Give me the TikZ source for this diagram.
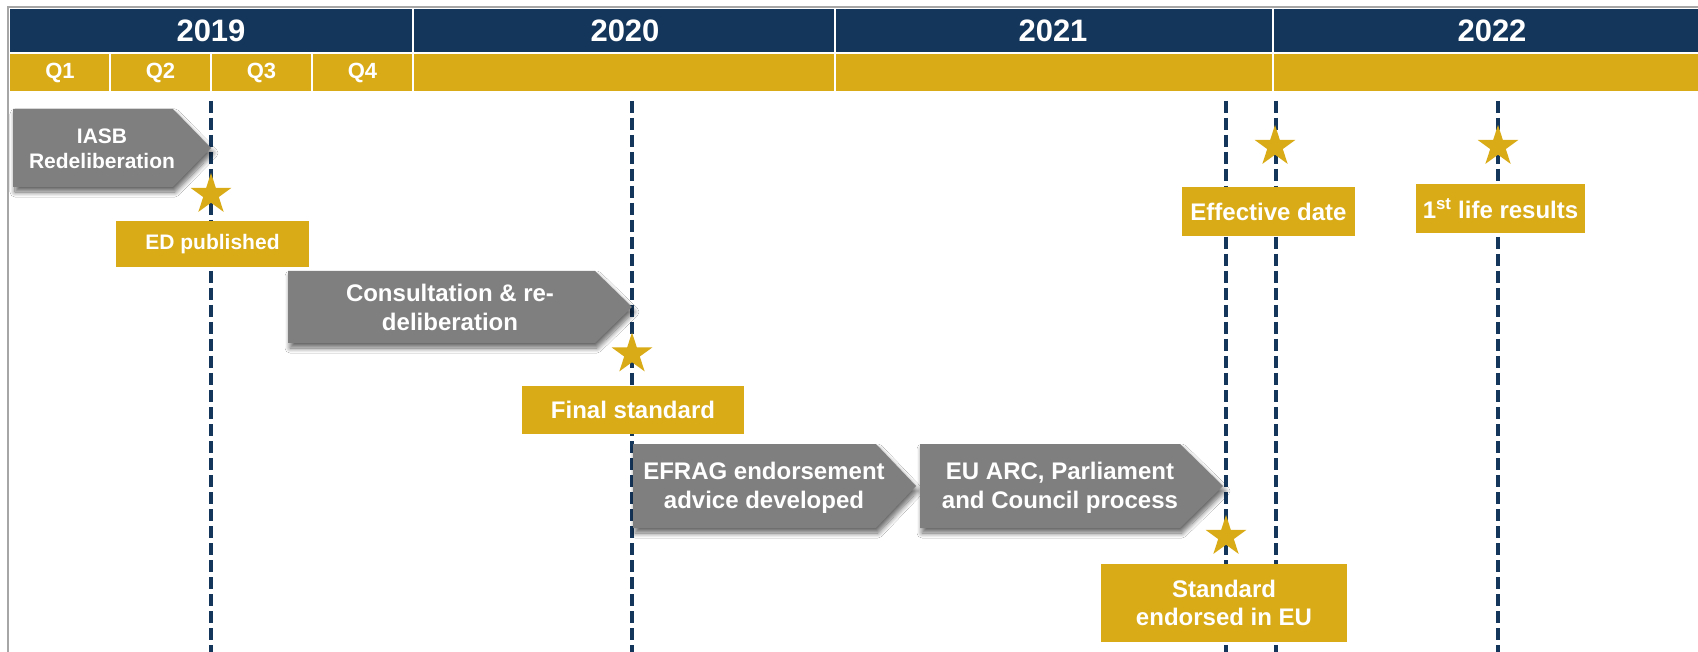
\documentclass[tikz,border=0pt]{standalone}
\usepackage{fontspec}
\setmainfont{Liberation Sans}
\usetikzlibrary{shapes.geometric,shadows.blur}
\definecolor{navy}{HTML}{14365B}
\definecolor{gold}{HTML}{D9AB17}
\definecolor{arrowgray}{HTML}{7F7F7F}
\definecolor{framegray}{HTML}{A6A6A6}
\begin{document}
\begin{tikzpicture}[x=1pt,y=-1pt,
 yearlbl/.style={text=white,inner sep=0pt,font=\bfseries\fontsize{31}{36}\selectfont},
 qlbl/.style={text=white,inner sep=0pt,font=\bfseries\fontsize{22}{26}\selectfont},
 divider/.style={white,line width=2.5pt},
 dline/.style={navy,line width=3.5pt,dash pattern=on 12pt off 5pt},
 arrowshape/.style={fill=arrowgray,blur shadow={shadow xshift=2pt,shadow yshift=-5pt,shadow blur radius=5pt,shadow blur steps=10,shadow opacity=60}},
 arrowtext/.style={text=white,align=center,inner sep=0pt},
 goldbox/.style={fill=gold,text=white,align=center,inner sep=0pt,font=\bfseries\fontsize{24}{28}\selectfont},
 goldstar/.style={star,star points=5,star point ratio=2.618,fill=gold,minimum size=43pt,inner sep=0pt,draw=none},
]
\useasboundingbox (0,0) rectangle (1698,652);
\fill[white] (0,0) rectangle (1698,652);
% frame
\draw[framegray,line width=2pt] (8,652) -- (8,7) -- (1698,7);
% header
\fill[navy] (10,9) rectangle (1698,52);
\fill[gold] (10,54) rectangle (1698,91);
\foreach \x in {110,211,312} \draw[divider] (\x,54) -- (\x,91);
\foreach \x in {413,835,1273} \draw[divider] (\x,9) -- (\x,91);
\node[yearlbl] (y2019) at (211,31) {2019};
\node[yearlbl] (y2020) at (625,31) {2020};
\node[yearlbl] (y2021) at (1053,31) {2021};
\node[yearlbl] (y2022) at (1492,31) {2022};
\node[qlbl] (q1) at (60,73) {Q1};
\node[qlbl] (q2) at (160.5,73) {Q2};
\node[qlbl] (q3) at (261.5,73) {Q3};
\node[qlbl] (q4) at (362.5,73) {Q4};
% dashed milestone lines
\foreach \n/\x in {a/211,b/632,c/1226,d/1276,e/1498}{
  \coordinate (\n top) at (\x,101);
  \coordinate (\n bot) at (\x,652);
  \draw[dline] (\n top) -- (\n bot);
}
% process arrows
\path[arrowshape] (13,109) -- (173,109) -- (211,148) -- (173,187) -- (13,187) -- cycle;
\node[arrowtext,font=\bfseries\fontsize{21}{25}\selectfont] (iasb) at (102,149) {IASB\\Redeliberation};
\path[arrowshape] (288,271) -- (595,271) -- (632,307) -- (595,343) -- (288,343) -- cycle;
\node[arrowtext,font=\bfseries\fontsize{24}{29}\selectfont] (consult) at (450,307.5) {Consultation \& re-\\deliberation};
\path[arrowshape] (633,444) -- (876,444) -- (916,486) -- (876,528) -- (633,528) -- cycle;
\node[arrowtext,font=\bfseries\fontsize{24}{29}\selectfont] (efrag) at (764,487.5) {EFRAG endorsement\\advice developed};
\path[arrowshape] (920,444) -- (1180,444) -- (1223,486) -- (1180,528) -- (920,528) -- cycle;
\node[arrowtext,font=\bfseries\fontsize{24}{29}\selectfont] (euarc) at (1060,487.5) {EU ARC, Parliament\\and Council process};
% stars
\node[goldstar] (s1) at (211,194.5) {};
\node[goldstar] (s2) at (632,354) {};
\node[goldstar] (s3) at (1226,536.5) {};
\node[goldstar] (s4) at (1275,146.5) {};
\node[goldstar] (s5) at (1498,146.5) {};
% milestone boxes
\node[goldbox,minimum width=193pt,minimum height=46pt,font=\bfseries\fontsize{21}{25}\selectfont] (ed) at (212.5,244) {ED published};
\node[goldbox,minimum width=222pt,minimum height=48pt] (final) at (633,410) {Final standard};
\node[goldbox,minimum width=173pt,minimum height=49pt] (eff) at (1268.5,211.5) {Effective date};
\node[goldbox,minimum width=169pt,minimum height=49pt] (life) at (1500.5,208.5) {1\textsuperscript{st} life results};
\node[goldbox,minimum width=246pt,minimum height=78pt] (endorsed) at (1224,603) {Standard\\endorsed in EU};
\end{tikzpicture}
\end{document}
